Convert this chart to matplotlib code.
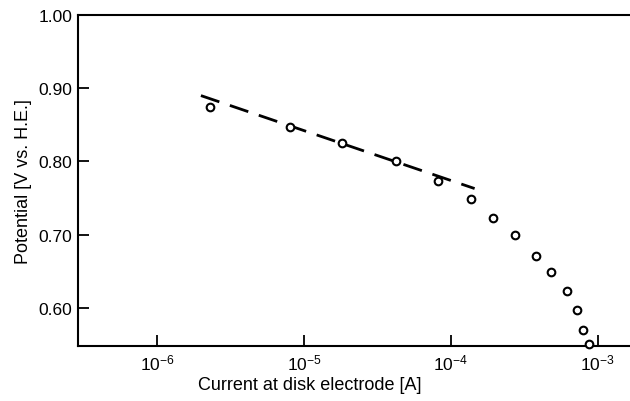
import numpy as np
import matplotlib
matplotlib.use("Agg")
import matplotlib.pyplot as plt

plt.rcParams['font.family'] = ['Liberation Sans', 'DejaVu Sans']
plt.rcParams['mathtext.fontset'] = 'custom'
plt.rcParams['mathtext.rm'] = 'Liberation Sans'
plt.rcParams['mathtext.it'] = 'Liberation Sans'

# measured points: current at disk electrode [A] vs potential [V vs. H.E.]
current = [2.3e-6, 8.0e-6, 1.8e-5, 4.2e-5, 8.2e-5, 1.37e-4, 1.93e-4,
           2.72e-4, 3.8e-4, 4.8e-4, 6.2e-4, 7.2e-4, 8.0e-4, 8.7e-4]
potential = [0.874, 0.847, 0.825, 0.800, 0.774, 0.749, 0.723,
             0.699, 0.671, 0.649, 0.623, 0.597, 0.570, 0.551]

# Tafel line (dashed)
tafel_current = [1.98e-6, 1.45e-4]
tafel_potential = [0.890, 0.763]

yticks = [0.60, 0.70, 0.80, 0.90, 1.00]
ytick_labels = ['0.60', '0.70', '0.80', '0.90', '1.00']
xticks = [1e-6, 1e-5, 1e-4, 1e-3]
xtick_labels = [r'$\mathregular{10^{-6}}$', r'$\mathregular{10^{-5}}$',
                r'$\mathregular{10^{-4}}$', r'$\mathregular{10^{-3}}$']

fig = plt.figure(figsize=(6.3, 4.02), dpi=100)
ax = fig.add_axes([0.124, 0.137, 0.876, 0.823])

ax.plot(tafel_current, tafel_potential, color='black', lw=2.0,
        dashes=(7, 4), solid_capstyle='butt', zorder=2)
ax.plot(current, potential, 'o', ms=5.5, mfc='white', mec='black',
        mew=1.5, zorder=3, clip_on=False)

ax.set_xscale('log')
ax.set_xlim(10 ** -6.54, 10 ** -2.78)
ax.set_ylim(0.548, 1.00)

ax.set_xticks(xticks)
ax.set_xticklabels(xtick_labels, fontsize=12.5)
ax.minorticks_off()
ax.set_yticks(yticks)
ax.set_yticklabels(ytick_labels, fontsize=12.5)

ax.tick_params(direction='in', length=8, width=1.3, pad=5)
ax.tick_params(axis='y', pad=4)

ax.spines['right'].set_visible(False)
for s in ['left', 'bottom', 'top']:
    ax.spines[s].set_linewidth(1.5)

ax.set_xlabel('Current at disk electrode [A]', fontsize=13)
ax.xaxis.set_label_coords(0.42, -0.09)
ax.set_ylabel('Potential [V vs. H.E.]', fontsize=13, labelpad=5)

fig.savefig('out.png', dpi=100)
